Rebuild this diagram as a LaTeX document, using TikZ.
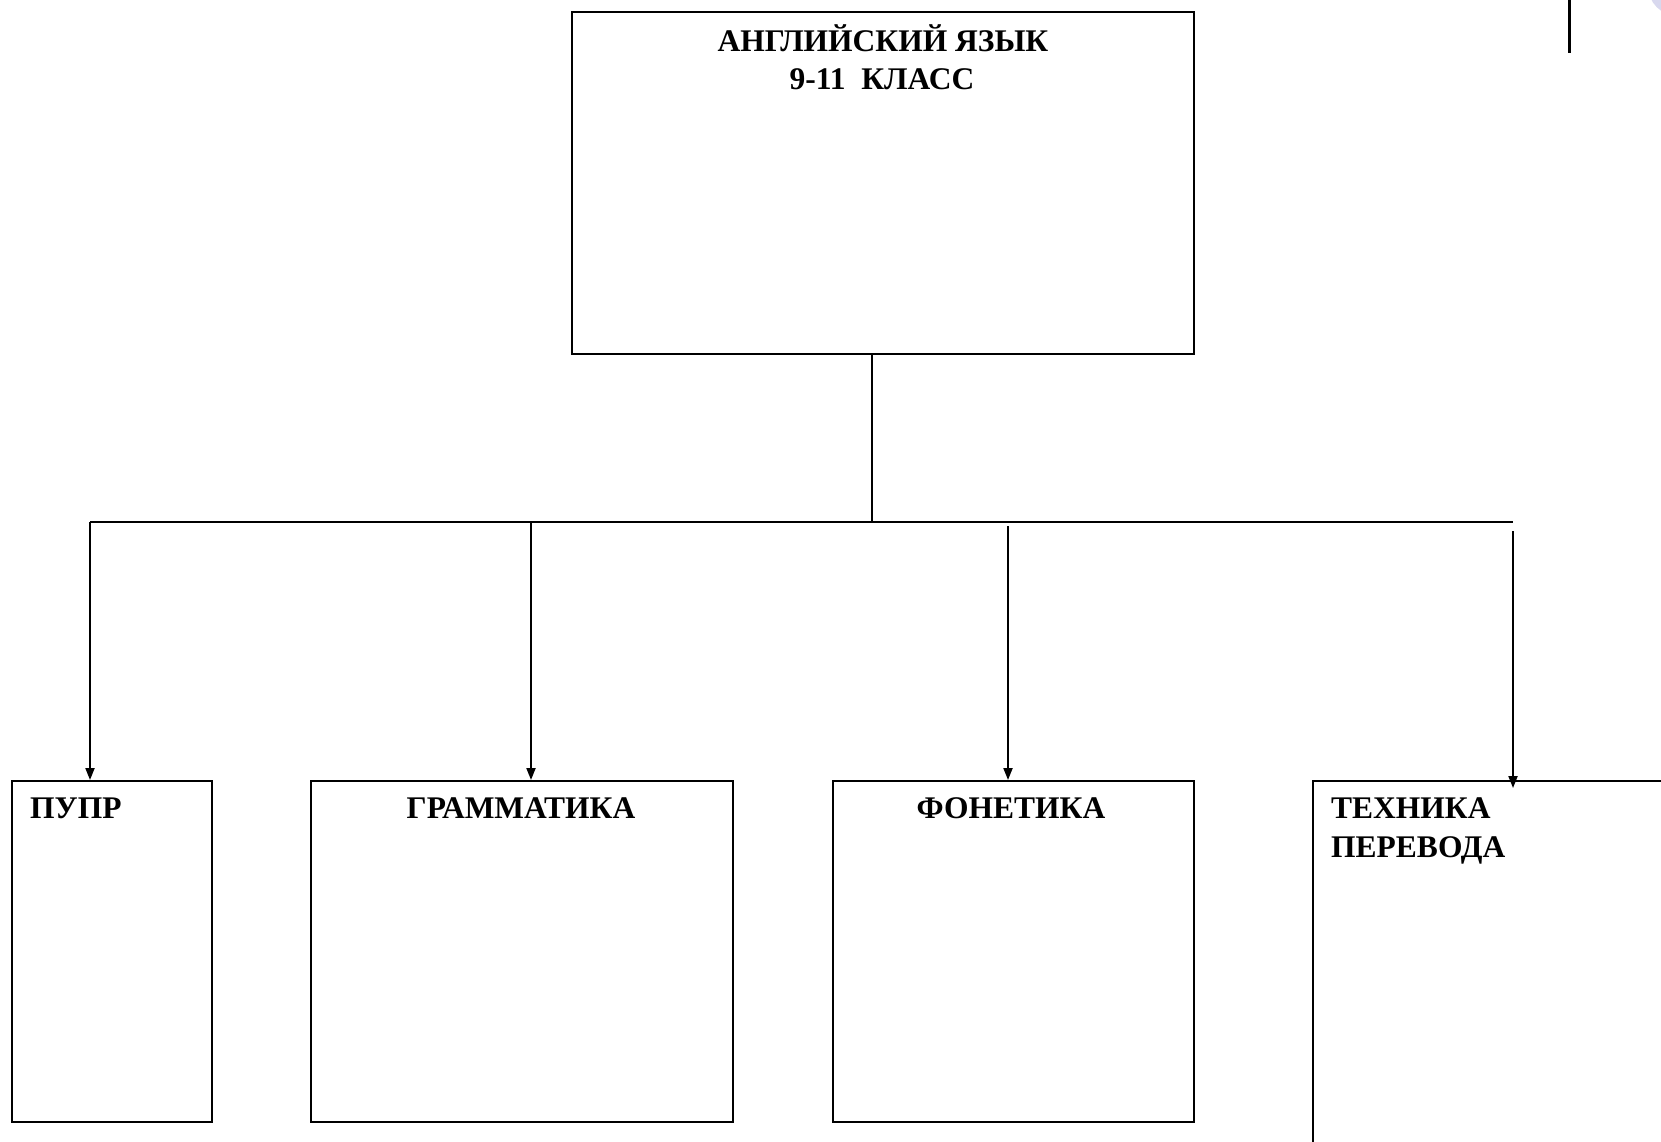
\documentclass[tikz,border=0pt]{standalone}
\usepackage{fontspec}
\setmainfont{Liberation Serif}
\usetikzlibrary{arrows.meta}
\definecolor{lav}{RGB}{216,216,238}
\begin{document}
\begin{tikzpicture}[x=1pt,y=-1pt,
  boxnode/.style={draw=black,line width=2pt,rectangle,inner sep=0pt,anchor=north west},
  lbl/.style={font=\fontsize{31.5}{38}\selectfont\bfseries,inner sep=0pt},
  conn/.style={line width=2pt},
  arr/.style={line width=2pt,-{Triangle[length=12pt,width=9pt]}}]
\useasboundingbox (0,0) rectangle (1661,1141);
\fill[white] (0,0) rectangle (1661,1141);
% decorative fragments at top right
\fill[lav] (1678,-14) circle (30);
\draw[line width=3pt] (1569,0) -- (1569,53);
% boxes
\node[boxnode,minimum width=622pt,minimum height=342pt] (top) at (571,11) {};
\node[boxnode,minimum width=200pt,minimum height=341pt] (pupr) at (11,780) {};
\node[boxnode,minimum width=422pt,minimum height=341pt] (gram) at (310,780) {};
\node[boxnode,minimum width=361pt,minimum height=341pt] (fon) at (832,780) {};
\node[boxnode,minimum width=400pt,minimum height=362pt] (tech) at (1312,780) {};
% labels
\node[lbl,anchor=base] at (883,51) {АНГЛИЙСКИЙ ЯЗЫК};
\node[lbl,anchor=base] at (882,89) {9-11\ \ КЛАСС};
\node[lbl,anchor=base west] at (30,818) {ПУПР};
\node[lbl,anchor=base] at (521,818) {ГРАММАТИКА};
\node[lbl,anchor=base] at (1011,818) {ФОНЕТИКА};
\node[lbl,anchor=base west] at (1331,818) {ТЕХНИКА};
\node[lbl,anchor=base west] at (1331,857) {ПЕРЕВОДА};
% connectors
\coordinate (j) at (872,522);
\coordinate (hl) at (90,522);
\coordinate (hr) at (1513,522);
\coordinate (a2) at (531,522);
\coordinate (s3) at (1008,526);
\coordinate (s4) at (1513,531);
\coordinate (e4) at (1513,788);
\draw[conn] (top.south -| j) -- (j);
\draw[conn] (hl) -- (hr);
\draw[arr] (hl) -- (pupr.north -| hl);
\draw[arr] (a2) -- (gram.north -| a2);
\draw[arr] (s3) -- (fon.north -| s3);
\draw[arr] (s4) -- (e4);
\end{tikzpicture}
\end{document}
